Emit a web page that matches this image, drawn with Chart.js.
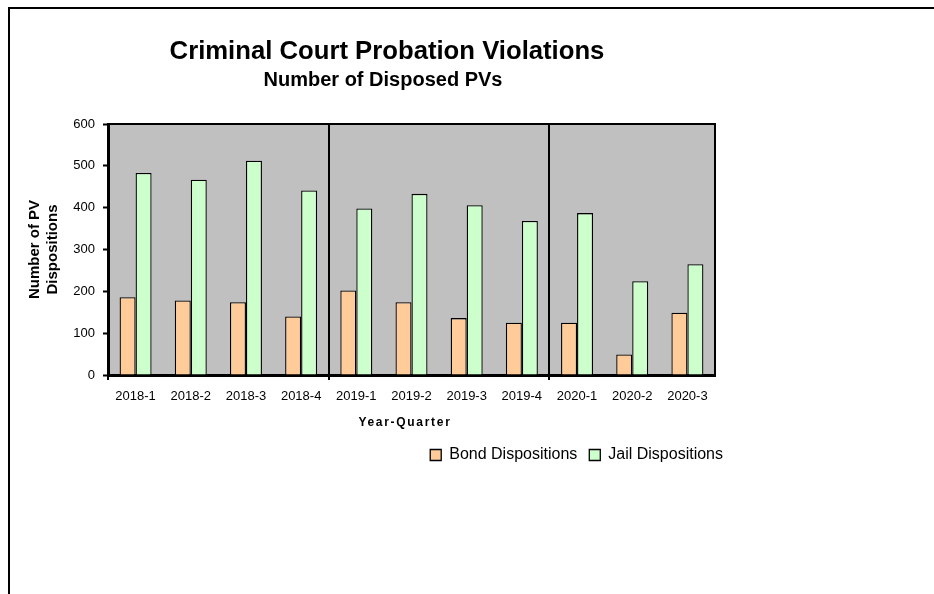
<!DOCTYPE html>
<html>
<head>
<meta charset="utf-8">
<title>Criminal Court Probation Violations</title>
<script src="https://cdn.jsdelivr.net/npm/chart.js@4/dist/chart.umd.min.js"></script>
<style>
    html, body { margin: 0; padding: 0; background: #fff; overflow: hidden; }
    #frame {
        position: absolute; left: 8px; top: 7px;
        width: 2000px; height: 2000px;
        border-left: 2px solid #000; border-top: 2px solid #000;
    }
    #wrap { position: absolute; left: 0; top: 0; width: 934px; height: 594px; }
</style>
</head>
<body>
<div id="frame"></div>
<div id="wrap"><canvas id="pvChart" width="934" height="594"></canvas></div>
<script>
// Chart data
const quarters = ['2018-1', '2018-2', '2018-3', '2018-4', '2019-1', '2019-2', '2019-3', '2019-4', '2020-1', '2020-2', '2020-3'];
const bondDispositions = [186, 178, 174, 140, 202, 174, 136, 125, 125, 49, 149];
const jailDispositions = [483, 467, 512, 441, 398, 433, 406, 368, 387, 224, 265];
const yTicks = [0, 100, 200, 300, 400, 500, 600];

// Year separators sit before these category indexes
const yearBreaks = [4, 8];

const chartTitle = 'Criminal Court Probation Violations';
const chartSubtitle = 'Number of Disposed PVs';
const xTitle = 'Year-Quarter';
const yTitle = ['Number of PV', 'Dispositions'];

const FONT = '"Liberation Sans", Arial, Helvetica, sans-serif';

Chart.defaults.color = '#000';
Chart.defaults.font.family = FONT;

// Gray plot background, top/right borders and the title texts
const decorPlugin = {
    id: 'decor',
    beforeDraw(chart) {
        const { ctx, chartArea: a } = chart;
        ctx.save();
        ctx.fillStyle = '#C0C0C0';
        ctx.fillRect(a.left, a.top, a.right - a.left, a.bottom - a.top);
        ctx.restore();
    },
    afterDraw(chart) {
        const { ctx, chartArea: a } = chart;
        ctx.save();
        ctx.strokeStyle = '#000';
        ctx.lineWidth = 2;
        ctx.beginPath();
        ctx.moveTo(a.left, a.top);
        ctx.lineTo(a.right, a.top);
        ctx.lineTo(a.right, a.bottom);
        ctx.stroke();

        ctx.fillStyle = '#000';
        ctx.textAlign = 'center';
        ctx.textBaseline = 'alphabetic';
        ctx.font = 'bold 25.7px ' + FONT;
        ctx.fillText(chartTitle, 387, 59);
        ctx.font = 'bold 20px ' + FONT;
        ctx.fillText(chartSubtitle, 383, 86);

        ctx.font = 'bold 12px ' + FONT;
        ctx.letterSpacing = '1.7px';
        ctx.textBaseline = 'middle';
        ctx.fillText(xTitle, 405, 423);
        ctx.restore();
    }
};

function isBreak(i) {
    return yearBreaks.indexOf(i) !== -1;
}

new Chart(document.getElementById('pvChart').getContext('2d'), {
    type: 'bar',
    data: {
        labels: quarters,
        datasets: [
            {
                label: 'Bond Dispositions',
                data: bondDispositions,
                backgroundColor: '#FFCC99',
                borderColor: '#000',
                borderWidth: 1.3
            },
            {
                label: 'Jail Dispositions',
                data: jailDispositions,
                backgroundColor: '#CCFFCC',
                borderColor: '#000',
                borderWidth: 1.3
            }
        ]
    },
    options: {
        responsive: false,
        animation: false,
        categoryPercentage: 0.58,
        barPercentage: 1.0,
        layout: { padding: { left: 0, top: 124, right: 199, bottom: 121 } },
        scales: {
            x: {
                afterFit(scale) { scale.height = 60; },
                grid: {
                    offset: true,
                    drawOnChartArea: true,
                    drawTicks: true,
                    tickLength: 5,
                    lineWidth: 2,
                    color: ctx => isBreak(ctx.index) ? '#000' : 'rgba(0,0,0,0)',
                    tickColor: ctx => (ctx.index === 0 || isBreak(ctx.index)) ? '#000' : 'rgba(0,0,0,0)'
                },
                border: { display: true, color: '#000', width: 3 },
                ticks: {
                    font: { size: 13 },
                    padding: 9,
                    maxRotation: 0,
                    autoSkip: false
                }
            },
            y: {
                min: 0,
                max: 600,
                afterFit(scale) { scale.width = 108; },
                afterBuildTicks(scale) { scale.ticks = yTicks.map(v => ({ value: v })); },
                grid: {
                    drawOnChartArea: false,
                    drawTicks: true,
                    tickLength: 5,
                    tickWidth: 2,
                    tickColor: '#000'
                },
                border: { display: true, color: '#000', width: 3 },
                ticks: { font: { size: 13 }, padding: 8 },
                title: {
                    display: true,
                    text: yTitle,
                    font: { size: 15, weight: 'bold' },
                    padding: { top: 26, bottom: 0 }
                }
            },
            // empty right axis only keeps the legend end past the plot edge
            y2: {
                type: 'linear',
                position: 'right',
                display: true,
                afterFit(scale) { scale.width = 20; },
                grid: { display: false },
                border: { display: false },
                ticks: { display: false }
            }
        },
        plugins: {
            tooltip: { enabled: false },
            legend: {
                position: 'bottom',
                align: 'end',
                labels: {
                    boxWidth: 11,
                    boxHeight: 11,
                    padding: 12,
                    font: { size: 16 },
                    color: '#000'
                }
            }
        }
    },
    plugins: [decorPlugin]
});
</script>
</body>
</html>
